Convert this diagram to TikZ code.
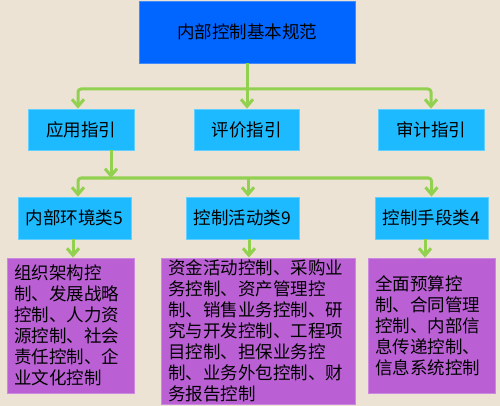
\documentclass[tikz,border=0pt]{standalone}
\usepackage{fontspec}
\setmainfont{Noto Sans CJK SC}
\usetikzlibrary{arrows.meta}

\definecolor{bgbeige}{RGB}{237,227,212}
\definecolor{topblue}{RGB}{0,102,255}
\definecolor{skyblue}{RGB}{30,186,255}
\definecolor{boxpurple}{RGB}{186,96,212}
\definecolor{linkgreen}{RGB}{146,208,80}

\tikzset{
  head/.style={fill=topblue, draw=topblue!75!white, line width=0.8pt, minimum width=216, minimum height=62, inner sep=0pt, font=\fontsize{17.5}{21}\selectfont},
  guide/.style={fill=skyblue, draw=skyblue!70!white, line width=0.8pt, minimum height=41, inner sep=0pt, font=\fontsize{17.5}{21}\selectfont},
  detail/.style={fill=boxpurple, draw=boxpurple!75!white, line width=0.8pt, inner xsep=7pt, inner ysep=0pt, align=left, font=\fontsize{17.5}{21}\selectfont},
  link/.style={draw=linkgreen, line width=3pt, line join=round},
  arr/.style={-{Straight Barb[length=7pt,width=12pt]}},
  arrs/.style={{Straight Barb[length=7pt,width=12pt]}-{Straight Barb[length=7pt,width=12pt]}}
}

\begin{document}
\begin{tikzpicture}[x=1pt,y=-1pt]
\fill[bgbeige] (0,0) rectangle (500,406);% background
\useasboundingbox (0,0) rectangle (500,406);

\coordinate (bus1) at (0,89);
\coordinate (bus2) at (0,178);

% top
\node[head] (kz) at (247,32) {内部控制基本规范};

% guides
\node[guide, minimum width=106] (yy) at (81,129.5) {应用指引};
\node[guide, minimum width=105] (pj) at (246.5,129.5) {评价指引};
\node[guide, minimum width=106] (sj) at (431,129.5) {审计指引};

% categories
\node[guide, minimum width=113, minimum height=42] (hj) at (74.5,218) {内部环境类5};
\node[guide, minimum width=113, minimum height=42] (hd) at (242.5,218) {控制活动类9};
\node[guide, minimum width=113, minimum height=42] (sd) at (431.5,218) {控制手段类4};

% details
\node[detail, text width=113, minimum height=135] (hjx) at (70.5,325.5) {组织架构控\\制、发展战略\\控制、人力资\\源控制、社会\\责任控制、企\\业文化控制};
\node[detail, text width=180, minimum height=146] (hdx) at (258,331) {资金活动控制、采购业\\务控制、资产管理控\\制、销售业务控制、研\\究与开发控制、工程项\\目控制、担保业务控\\制、业务外包控制、财\\务报告控制};
\node[detail, text width=113, minimum height=135] (sdx) at (431.5,325.5) {全面预算控\\制、合同管理\\控制、内部信\\息传递控制、\\信息系统控制};

% connectors
\draw[link, arrs, rounded corners=3] ([xshift=-3]yy.north) |- (kz.south |- bus1) -| (sj.north);
\draw[link, arr] (kz.south) -- (kz.south |- pj.north);

\draw[link, arr] ([xshift=30]yy.south) -- ([xshift=30]yy.south |- bus2);
\draw[link, arrs, rounded corners=3] ([xshift=3.5]hj.north) |- ([xshift=5.5]hd.north |- bus2) -| (sd.north);
\draw[link, arr] ([xshift=5.5]hd.north |- bus2) -- ([xshift=5.5]hd.north);

\foreach \a/\b/\s in {hj/hjx/-1.5, hd/hdx/6.5, sd/sdx/-6.5}{
    \draw[link, arr] ([xshift=\s]\a.south) -- ([xshift=\s]\a.south |- \b.north);
}
\end{tikzpicture}
\end{document}
